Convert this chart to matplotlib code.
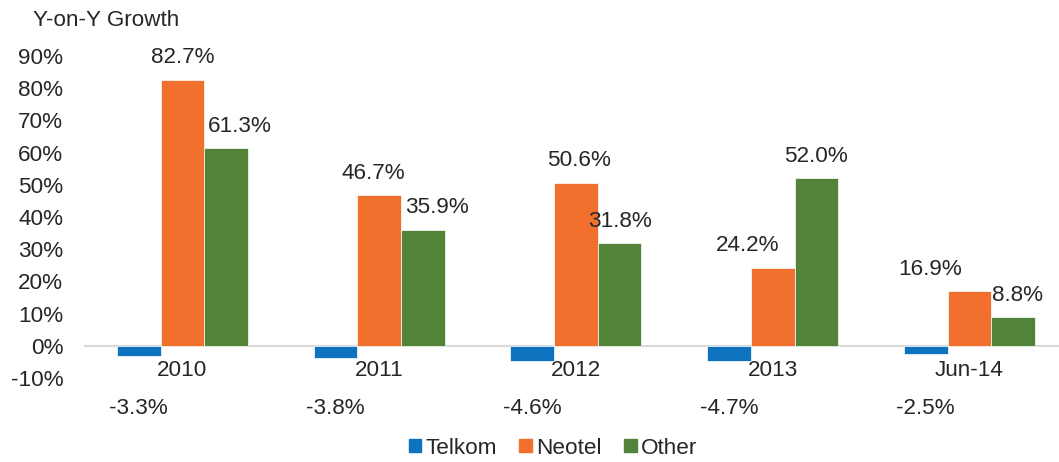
import numpy as np
import matplotlib
matplotlib.use("Agg")
import matplotlib.pyplot as plt
from matplotlib.patches import Rectangle

plt.rcParams["font.family"] = ["Liberation Sans", "DejaVu Sans"]

# Data
categories = ["2010", "2011", "2012", "2013", "Jun-14"]
telkom = [-3.3, -3.8, -4.6, -4.7, -2.5]
neotel = [82.7, 46.7, 50.6, 24.2, 16.9]
other = [61.3, 35.9, 31.8, 52.0, 8.8]
yticks = [-10, 0, 10, 20, 30, 40, 50, 60, 70, 80, 90]

c_telkom = "#0E73BE"
c_neotel = "#F2702D"
c_other = "#538239"
txt = "#262626"
fs = 16.2

fig = plt.figure(figsize=(10.59, 4.62), dpi=100)
ax = fig.add_axes([84 / 1059, (462 - 378) / 462, (1059 - 84) / 1059, (378 - 56) / 462])

x = np.arange(len(categories))
w = 0.222
ax.bar(x - w, telkom, w, color=c_telkom, edgecolor="white", linewidth=0.5, zorder=3)
ax.bar(x, neotel, w, color=c_neotel, edgecolor="white", linewidth=0.5, zorder=3)
ax.bar(x + w, other, w, color=c_other, edgecolor="white", linewidth=0.5, zorder=3)

ax.set_xlim(-0.5, 4.455)
ax.set_ylim(-10, 90)
ax.axhline(0, color="#D9D9D9", linewidth=1.5, zorder=2)

for s in ax.spines.values():
    s.set_visible(False)

ax.set_yticks(yticks)
ax.set_yticklabels([f"{v}%" for v in yticks], fontsize=fs, color=txt)
ax.tick_params(axis="y", length=0, pad=15)
ax.set_xticks(x)
ax.set_xticklabels(categories, fontsize=fs, color=txt)
ax.tick_params(axis="x", length=0, pad=-13)

# data labels (horizontal shifts in points, as Excel nudged them)
neo_dx = [0, -4, 2, -18, -28]
oth_dx = [10, 10, 0, 0, 3]
for i in range(len(categories)):
    ax.annotate(f"{neotel[i]:.1f}%", (x[i], neotel[i]), xytext=(neo_dx[i], 16),
                textcoords="offset points", ha="center", va="center",
                fontsize=fs, color=txt)
    ax.annotate(f"{other[i]:.1f}%", (x[i] + w, other[i]), xytext=(oth_dx[i], 16),
                textcoords="offset points", ha="center", va="center",
                fontsize=fs, color=txt)
    ax.annotate(f"{telkom[i]:.1f}%", (x[i] - w, 0), xycoords=("data", "axes fraction"),
                xytext=(0, -22), textcoords="offset points", ha="center", va="center",
                fontsize=fs, color=txt)

fig.text(33 / 1059, 1 - 20 / 462, "Y-on-Y Growth", fontsize=fs, color=txt,
         ha="left", va="center")

handles = [Rectangle((0, 0), 1, 1, color=c) for c in (c_telkom, c_neotel, c_other)]
fig.legend(handles, ["Telkom", "Neotel", "Other"], loc="center",
           bbox_to_anchor=(553 / 1059, 1 - 448 / 462), ncol=3, frameon=False,
           fontsize=fs, handlelength=0.55, handleheight=0.55, handletextpad=0.2,
           columnspacing=1.0, labelcolor=txt)

fig.savefig("out.png", dpi=100)
